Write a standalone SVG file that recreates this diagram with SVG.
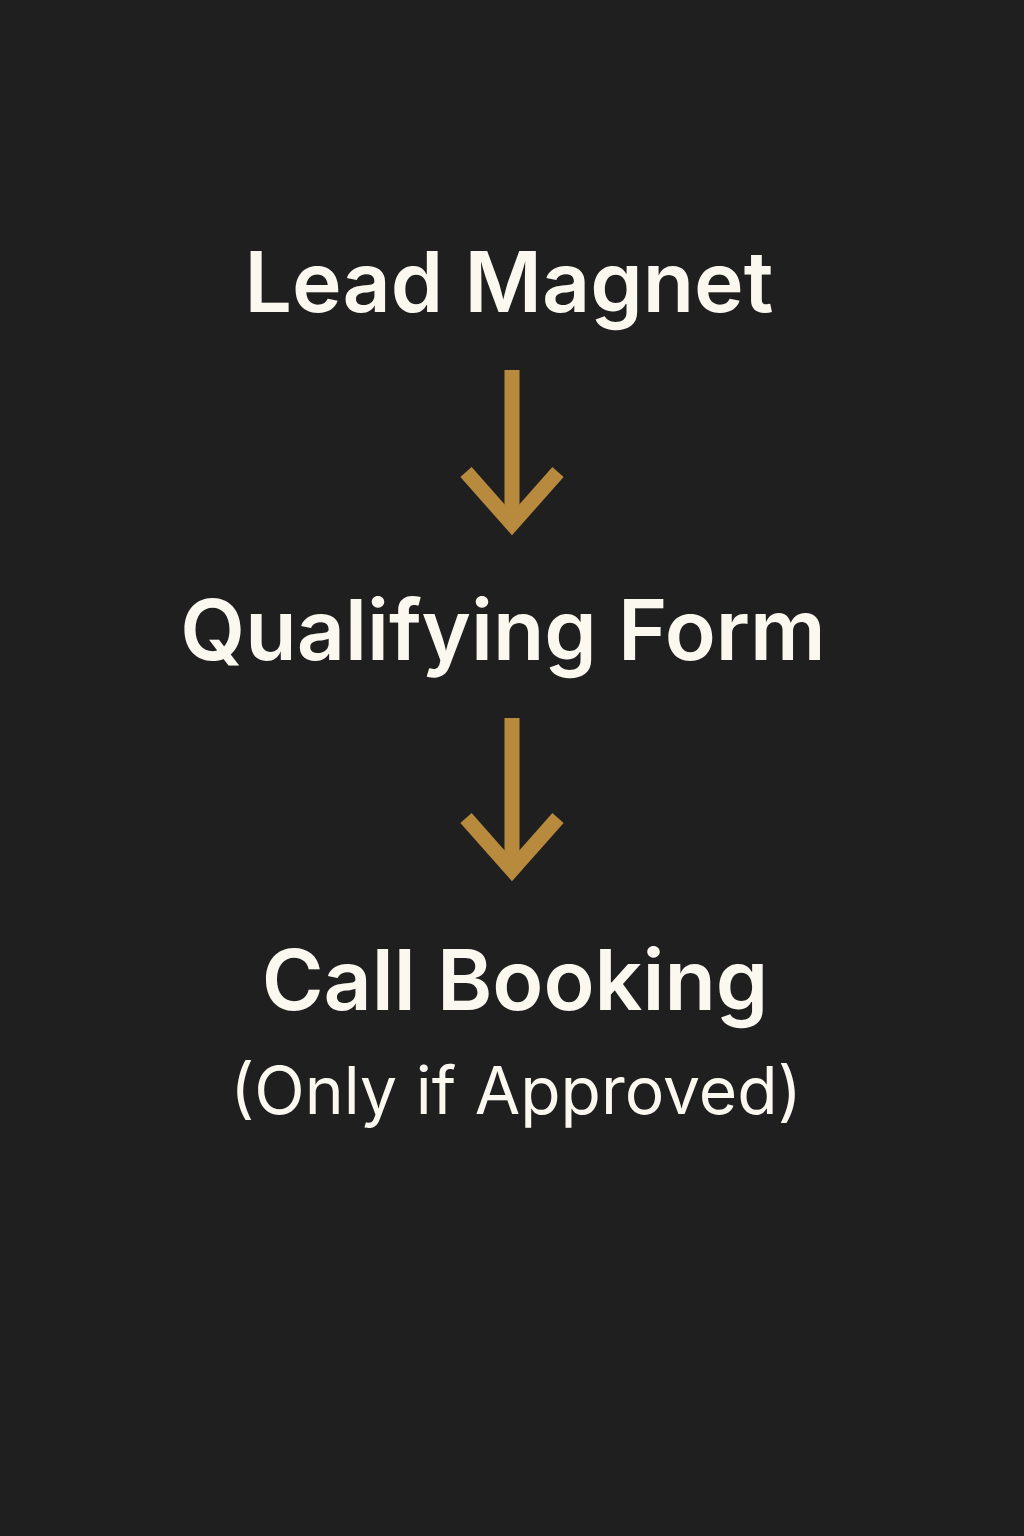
<svg xmlns="http://www.w3.org/2000/svg" width="1024" height="1536" viewBox="0 0 1024 1536">
<style>
.t{font-family:Inter,"Noto Sans","Liberation Sans",sans-serif;fill:#faf8ef;text-anchor:middle}
.b{font-weight:600;font-size:84px}
.r{font-weight:400;font-size:66px}
.a{stroke:#b88a3e;stroke-width:15;fill:none;stroke-linejoin:miter}
</style>
<rect width="1024" height="1536" fill="#1f1f1f"/>
<g id="lead"><text class="t b" x="509" y="312" font-size="83">Lead Magnet</text></g>
<g id="form"><text class="t b" x="503" y="660">Qualifying Form</text></g>
<g id="call"><text class="t b" x="515" y="1010">Call Booking</text><text class="t r" x="516" y="1114">(Only if Approved)</text></g>
<g id="connectors">
<path class="a" d="M512 370V520"/>
<path class="a" d="M466 472L512 524L558 472"/>
<path class="a" d="M512 718V866"/>
<path class="a" d="M466 818L512 870L558 818"/>
</g>
</svg>
